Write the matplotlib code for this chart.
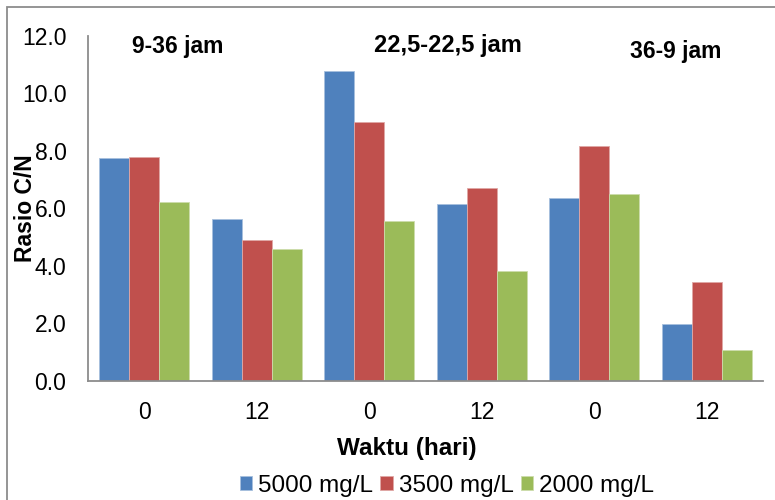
import matplotlib
matplotlib.use("Agg")
import matplotlib.pyplot as plt
from matplotlib.patches import Rectangle
import numpy as np

plt.rcParams['font.family'] = ['Liberation Sans', 'DejaVu Sans']

# Sampling days within each retention-time scheme
categories = ['0', '12', '0', '12', '0', '12']
series_names = ['5000 mg/L', '3500 mg/L', '2000 mg/L']
c5000 = [7.74, 5.64, 10.79, 6.14, 6.35, 1.98]
c3500 = [7.80, 4.89, 9.00, 6.71, 8.18, 3.42]
c2000 = [6.23, 4.57, 5.55, 3.82, 6.49, 1.05]
schemes = ['9-36 jam', '22,5-22,5 jam', '36-9 jam']
yticks = [0, 2, 4, 6, 8, 10, 12]

colors = ['#4F81BD', '#C0504D', '#9BBB59']
edges = ['#A7C0DE', '#E0A8A6', '#CDDDAC']

fig = plt.figure(figsize=(7.75, 5.0), dpi=100)
ax = fig.add_axes([88 / 775, 1 - 380.5 / 500, (763 - 88) / 775, (380.5 - 36) / 500])

x = np.arange(len(categories))
w = 0.2667
for i, (vals, col, ec, name) in enumerate(zip([c5000, c3500, c2000], colors, edges, series_names)):
    ax.bar(x + (i - 1) * w, vals, width=w, color=col, edgecolor=ec, linewidth=0.6,
           label=name, zorder=2)

ax.set_xlim(-0.5, len(categories) - 0.5)
ax.set_ylim(0, 12)
ax.set_yticks(yticks)
ax.set_yticklabels([f'{v:.1f}' for v in yticks])
ax.set_xticks(x)
ax.set_xticklabels(categories)
ax.tick_params(axis='both', length=0, labelsize=16.5)
ax.tick_params(axis='x', pad=15)
ax.tick_params(axis='y', pad=15.5)

for side in ['top', 'right']:
    ax.spines[side].set_visible(False)
for side in ['left', 'bottom']:
    ax.spines[side].set_color('#8C8C8C')
    ax.spines[side].set_linewidth(1.3)

ax.set_xlabel('Waktu (hari)', fontsize=17.5, fontweight='bold')
ax.xaxis.set_label_coords(0.473, -0.165)
ax.set_ylabel('Rasio C/N', fontsize=16.5, fontweight='bold')
ax.yaxis.set_label_coords(-0.0755, 0.5)

# Scheme labels above each pair of sampling days
scheme_pos = [(0.30, 11.63), (2.70, 11.68), (4.72, 11.47)]
scheme_sizes = [16.5, 17, 16.5]
for label, (px, py), fs in zip(schemes, scheme_pos, scheme_sizes):
    ax.text(px, py, label, ha='center', va='center', fontsize=fs, fontweight='bold')

fig.legend(loc='center', bbox_to_anchor=(447 / 775, 1 - 486 / 500), ncol=3,
           frameon=False, fontsize=17.5, handlelength=0.5, handleheight=0.5,
           handletextpad=0.25, columnspacing=0.3, borderpad=0, borderaxespad=0)

# Chart area frame
fig.patches.append(Rectangle((7 / 775, -0.1), 1.2, 1 - 7 / 500 + 0.1,
                             transform=fig.transFigure, fill=False,
                             edgecolor='#8C8C8C', linewidth=1.3))

fig.savefig('out.png', dpi=100)
